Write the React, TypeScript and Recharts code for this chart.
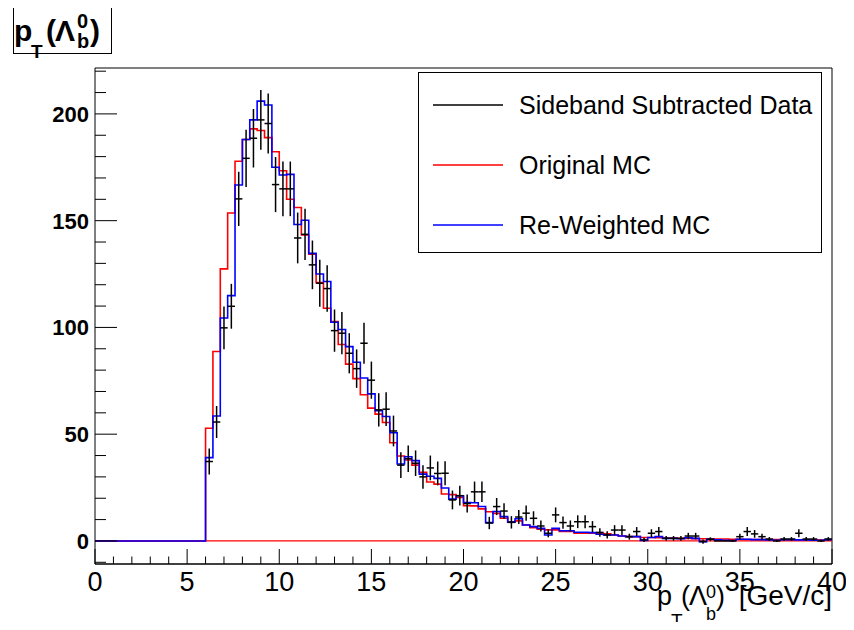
import React from 'react';
import { ComposedChart, Line, Scatter, XAxis, YAxis, ErrorBar, ReferenceLine, Legend } from 'recharts';

// Histogram binning: 85 bins of 0.4 GeV/c starting at 6.0 GeV/c
const BIN_START = 6.0;
const BIN_WIDTH = 0.4;
const X_MIN = 0;
const X_MAX = 40;
const Y_MIN = -10.8;
const Y_MAX = 221.5;

// Sideband subtracted data (per bin)
const dataCounts = [
  37.2, 55.7, 99.8, 109.9, 160.2, 179.2, 188.6, 197.2, 195.5, 166.9,
  164.9, 164.9, 141.9, 143.6, 129.3, 120.7, 118.2, 98.5, 97.3, 87.9,
  80.7, 92.6, 75.3, 61.4, 61.7, 51.5, 35.5, 38.5, 36.4, 30.0,
  34.2, 31.6, 31.7, 19.2, 21.2, 17.5, 23.0, 23.0, 8.4, 16.1,
  14.0, 8.7, 11.2, 13.0, 10.6, 7.0, 3.6, 12.2, 8.6, 7.0,
  9.0, 9.0, 6.7, 4.0, 2.8, 5.1, 5.1, 2.0, 4.4, 0.5,
  3.6, 4.4, 1.2, 1.2, 1.2, 2.3, 2.3, -0.3, 0.8, 0.0,
  0.0, 0.0, 2.0, 4.4, 3.3, 2.0, 0.9, 0.0, 0.9, 0.9,
  3.6, 0.9, 0.9, 0.0, 0.9,
];
const dataErrors = [
  6.1, 7.5, 10.0, 10.5, 12.7, 13.4, 13.7, 14.0, 14.0, 12.9,
  12.8, 12.8, 11.9, 12.0, 11.4, 11.0, 10.9, 9.9, 9.9, 9.4,
  9.0, 9.6, 8.7, 7.8, 7.9, 7.2, 6.0, 6.2, 6.0, 5.5,
  5.8, 5.6, 5.6, 4.4, 4.6, 4.2, 4.8, 4.8, 2.9, 4.0,
  3.7, 2.9, 3.3, 3.6, 3.3, 2.6, 1.9, 3.5, 2.9, 2.6,
  3.0, 3.0, 2.6, 2.0, 1.7, 2.3, 2.3, 1.4, 2.1, 1.0,
  1.9, 2.1, 1.1, 1.1, 1.1, 1.5, 1.5, 1.0, 0.9, 0.0,
  0.0, 0.5, 1.4, 2.1, 1.8, 1.4, 0.9, 0.5, 0.9, 0.9,
  1.9, 0.9, 0.9, 0.5, 0.9,
];
// Original MC (red)
const originalMC = [
  52.8, 88.7, 127.4, 153.6, 177.8, 188.0, 193.0, 192.2, 188.9, 182.3,
  173.4, 160.0, 156.2, 143.3, 134.3, 121.0, 109.0, 102.7, 92.0, 82.8,
  76.0, 68.5, 62.2, 59.4, 55.5, 46.0, 39.8, 37.9, 35.5, 32.1,
  27.6, 26.6, 22.0, 21.7, 20.4, 16.5, 16.4, 15.0, 13.7, 12.9,
  10.6, 9.0, 9.4, 7.5, 6.2, 5.5, 5.2, 5.2, 4.4, 4.4,
  3.6, 3.6, 3.6, 3.6, 3.3, 2.8, 2.3, 2.0, 2.0, 1.6,
  1.6, 1.5, 1.4, 1.3, 1.2, 1.2, 1.1, 1.0, 1.0, 0.9,
  0.9, 0.8, 0.8, 0.7, 0.7, 0.6, 0.6, 0.6, 0.5, 0.5,
  0.5, 0.5, 0.4, 0.4, 0.4,
];
// Re-weighted MC (blue)
const reweightedMC = [
  39.0, 58.5, 104.4, 114.9, 166.7, 188.0, 197.2, 206.0, 204.2, 175.0,
  171.4, 171.7, 148.2, 150.2, 134.7, 125.0, 121.5, 102.4, 99.0, 91.0,
  83.7, 76.3, 68.9, 61.0, 58.3, 50.7, 36.0, 39.4, 37.6, 31.3,
  30.3, 29.3, 24.8, 19.6, 21.2, 18.0, 17.9, 16.1, 8.6, 13.8,
  11.4, 8.8, 10.4, 7.5, 6.7, 5.9, 2.8, 5.9, 4.8, 4.8,
  4.1, 4.1, 3.9, 3.1, 2.8, 2.8, 2.3, 2.0, 2.0, 0.2,
  1.6, 2.0, 1.2, 1.2, 1.0, 1.5, 1.2, -0.3, 0.8, 0.5,
  0.3, 0.2, 0.8, 0.8, 0.6, 0.6, 0.5, 0.3, 0.6, 0.6,
  0.5, 0.5, 0.3, 0.3, 0.6,
];

const xTicks = [
  0, 1, 2, 3, 4, 5, 6, 7, 8, 9, 10, 11, 12, 13, 14, 15, 16, 17, 18, 19, 20,
  21, 22, 23, 24, 25, 26, 27, 28, 29, 30, 31, 32, 33, 34, 35, 36, 37, 38, 39, 40,
];
const yTicks = [
  -10, 0, 10, 20, 30, 40, 50, 60, 70, 80, 90, 100, 110, 120, 130, 140, 150,
  160, 170, 180, 190, 200, 210, 220,
];

const FONT = '"Liberation Sans", Arial, Helvetica, sans-serif';

// Histogram outline rows (bin left edges, with closing point at the upper edge)
const histRows: { x: number; orig: number; rew: number }[] = [{ x: X_MIN, orig: 0, rew: 0 }];
originalMC.forEach((v, k) => {
  histRows.push({ x: +(BIN_START + k * BIN_WIDTH).toFixed(3), orig: v, rew: reweightedMC[k] });
});
histRows.push({
  x: X_MAX,
  orig: originalMC[originalMC.length - 1],
  rew: reweightedMC[reweightedMC.length - 1],
});

const pointRows = dataCounts.map((v, k) => ({
  x: +(BIN_START + (k + 0.5) * BIN_WIDTH).toFixed(3),
  y: v,
  err: dataErrors[k],
  xerr: BIN_WIDTH / 2,
}));

const XTick = (props: any) => {
  const { x, y, payload } = props;
  const v = payload.value;
  const major = v % 5 === 0;
  return (
    <g>
      <line x1={x} x2={x} y1={y} y2={y - (major ? 15 : 7.5)} stroke="#000" strokeWidth={1} />
      {major && (
        <text x={x} y={y + 27} textAnchor="middle" fontSize={27} fontFamily={FONT} fill="#000">
          {v}
        </text>
      )}
    </g>
  );
};

const YTick = (props: any) => {
  const { x, y, payload } = props;
  const v = payload.value;
  const major = v % 50 === 0;
  return (
    <g>
      <line x1={x} x2={x + (major ? 22 : 11)} y1={y} y2={y} stroke="#000" strokeWidth={1} />
      {major && (
        <text x={x - 6} y={y + 8} textAnchor="end" fontSize={22} fontWeight="bold" fontFamily={FONT} fill="#000">
          {v}
        </text>
      )}
    </g>
  );
};

const legendItems = [
  { label: 'Sideband Subtracted Data', color: '#000000' },
  { label: 'Original MC', color: '#ff0000' },
  { label: 'Re-Weighted MC', color: '#0000ff' },
];

const renderLegend = () => (
  <div
    style={{
      width: 404,
      height: 181,
      border: '1px solid #000',
      background: '#fff',
      boxSizing: 'border-box',
      position: 'relative',
      fontFamily: FONT,
      fontSize: 25,
      color: '#000',
    }}
  >
    {legendItems.map((it, i) => (
      <div key={it.label} style={{ position: 'absolute', left: 0, top: 32 + i * 60 - 15, height: 30, width: 400 }}>
        <svg width={90} height={30} style={{ position: 'absolute', left: 0, top: 0 }}>
          <line x1={14} x2={84} y1={15} y2={15} stroke={it.color} strokeWidth={1.3} />
        </svg>
        <span style={{ position: 'absolute', left: 100, top: 1, lineHeight: '28px', whiteSpace: 'nowrap' }}>
          {it.label}
        </span>
      </div>
    ))}
  </div>
);

export default function App() {
  return (
    <div style={{ position: 'relative', width: 838, height: 614 }}>
      <ComposedChart
        width={838}
        height={614}
        data={histRows}
        margin={{ top: 60, right: 14, bottom: 0, left: 0 }}
        style={{ background: '#fff' }}
      >
        <XAxis
          type="number"
          dataKey="x"
          domain={[X_MIN, X_MAX]}
          ticks={xTicks}
          interval={0}
          allowDataOverflow
          tickLine={false}
          tickSize={0}
          tickMargin={0}
          tick={<XTick />}
          axisLine={{ stroke: '#000', strokeWidth: 1.5 }}
          height={58}
        />
        <YAxis
          type="number"
          domain={[Y_MIN, Y_MAX]}
          ticks={yTicks}
          interval={0}
          allowDataOverflow
          tickLine={false}
          tickSize={0}
          tickMargin={0}
          tick={<YTick />}
          axisLine={{ stroke: '#000', strokeWidth: 1 }}
          width={87}
        />
        <ReferenceLine y={Y_MAX} stroke="#000" strokeWidth={1} />
        <ReferenceLine x={X_MAX} stroke="#000" strokeWidth={1} />
        <ReferenceLine y={0} stroke="#ff0000" strokeWidth={1.3} />
        <Line
          dataKey="orig"
          type="stepAfter"
          stroke="#ff0000"
          strokeWidth={1.6}
          dot={false}
          activeDot={false}
          isAnimationActive={false}
        />
        <Line
          dataKey="rew"
          type="stepAfter"
          stroke="#0000ff"
          strokeWidth={1.6}
          dot={false}
          activeDot={false}
          isAnimationActive={false}
        />
        <Scatter data={pointRows} dataKey="y" isAnimationActive={false} shape={() => <g />} fill="#000">
          <ErrorBar dataKey="err" direction="y" width={0} stroke="#000" strokeWidth={1.5} />
          <ErrorBar dataKey="xerr" direction="x" width={0} stroke="#000" strokeWidth={1.5} />
        </Scatter>
        <Legend
          layout="horizontal"
          verticalAlign="middle"
          content={renderLegend}
          wrapperStyle={{ position: 'absolute', left: 410, top: 64, width: 404, height: 181 }}
        />
      </ComposedChart>
      <svg
        width={854}
        height={630}
        style={{ position: 'absolute', left: -8, top: -8, pointerEvents: 'none', overflow: 'visible' }}
      >
        {/* pad title box */}
        <rect x={13.5} y={6.5} width={98} height={47} fill="#fff" stroke="#000" strokeWidth={1} />
        <g fontFamily={FONT} fontWeight="bold" fill="#000">
          <text x={14} y={41} fontSize={30}>p</text>
          <text x={31} y={58} fontSize={19}>T</text>
          <text x={46} y={41} fontSize={30}>(</text>
          <text x={55} y={41} fontSize={30}>Λ</text>
          <text x={77} y={28} fontSize={20}>0</text>
          <text x={77} y={48} fontSize={20}>b</text>
          <text x={90} y={41} fontSize={30}>)</text>
        </g>
        {/* x axis title */}
        <g fontFamily={FONT} fill="#000">
          <text x={657} y={605} fontSize={27}>p</text>
          <text x={671} y={627} fontSize={19}>T</text>
          <text x={681} y={605} fontSize={27}>(</text>
          <text x={689} y={605} fontSize={27}>Λ</text>
          <text x={706} y={598} fontSize={18}>0</text>
          <text x={706} y={620} fontSize={18}>b</text>
          <text x={716} y={605} fontSize={27}>)</text>
          <text x={832} y={605} fontSize={28} textAnchor="end">[GeV/c]</text>
        </g>
      </svg>
    </div>
  );
}
